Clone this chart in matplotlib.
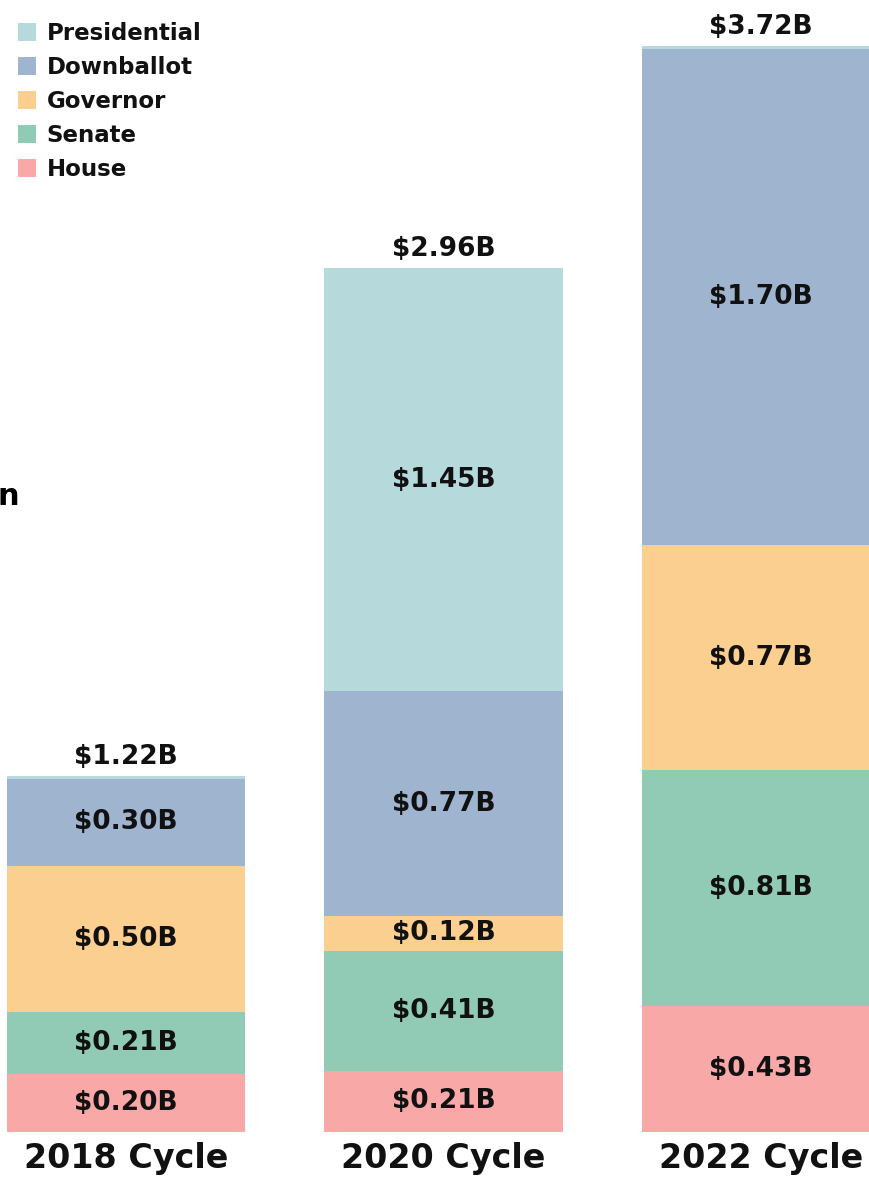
import matplotlib
matplotlib.use("Agg")
import matplotlib.pyplot as plt
import numpy as np

cycles = ["2018 Cycle", "2020 Cycle", "2022 Cycle"]
series_names = ["House", "Senate", "Governor", "Downballot", "Presidential"]
house = [0.20, 0.21, 0.43]
senate = [0.21, 0.41, 0.81]
governor = [0.50, 0.12, 0.77]
downballot = [0.30, 0.77, 1.70]
presidential = [0.01, 1.45, 0.01]
totals = [1.22, 2.96, 3.72]
colors = {"House": "#f9a8a8", "Senate": "#91cbb6", "Governor": "#fbcf8f",
          "Downballot": "#9fb4cf", "Presidential": "#b6d9dc"}

data = {"House": house, "Senate": senate, "Governor": governor,
        "Downballot": downballot, "Presidential": presidential}

fig = plt.figure(figsize=(8.69, 11.78), dpi=100)
ax = fig.add_axes([0, 0, 1, 1])
x = np.arange(len(cycles))
bottom = np.zeros(len(cycles))
handles = {}
for name in series_names:
    vals = np.array(data[name])
    b = ax.bar(x, vals, bottom=bottom, width=0.75, color=colors[name], linewidth=0)
    handles[name] = b
    for xi, v, b0 in zip(x, vals, bottom):
        if v >= 0.05:
            ax.text(xi, b0 + v / 2, f"${v:.2f}B", ha="center", va="center",
                    fontsize=19, fontweight="bold", color="#111111")
    bottom += vals

for xi, t in zip(x, totals):
    ax.text(xi, t + 0.02, f"${t:.2f}B", ha="center", va="bottom",
            fontsize=19, fontweight="bold", color="#111111")
    ax.text(xi, -0.09, cycles[xi], ha="center", va="center",
            fontsize=24, fontweight="bold", color="#111111")

ax.set_xlim(-0.397, 2.340)
ax.set_ylim(-0.158, 3.878)
ax.axis("off")

order = ["Presidential", "Downballot", "Governor", "Senate", "House"]
leg = ax.legend([handles[n] for n in order], order, loc="upper left",
                bbox_to_anchor=(0.002, 0.995), frameon=False,
                prop={"size": 16.5, "weight": "bold"}, handlelength=0.8,
                handleheight=0.8, handletextpad=0.45, labelspacing=0.48,
                borderaxespad=0.3)
for t in leg.get_texts():
    t.set_color("#111111")

fig.text(20 / 869, 1 - 497 / 1178, "Billion", ha="right", va="center",
         fontsize=22, fontweight="bold", color="black")

fig.savefig("out.png", dpi=100)
